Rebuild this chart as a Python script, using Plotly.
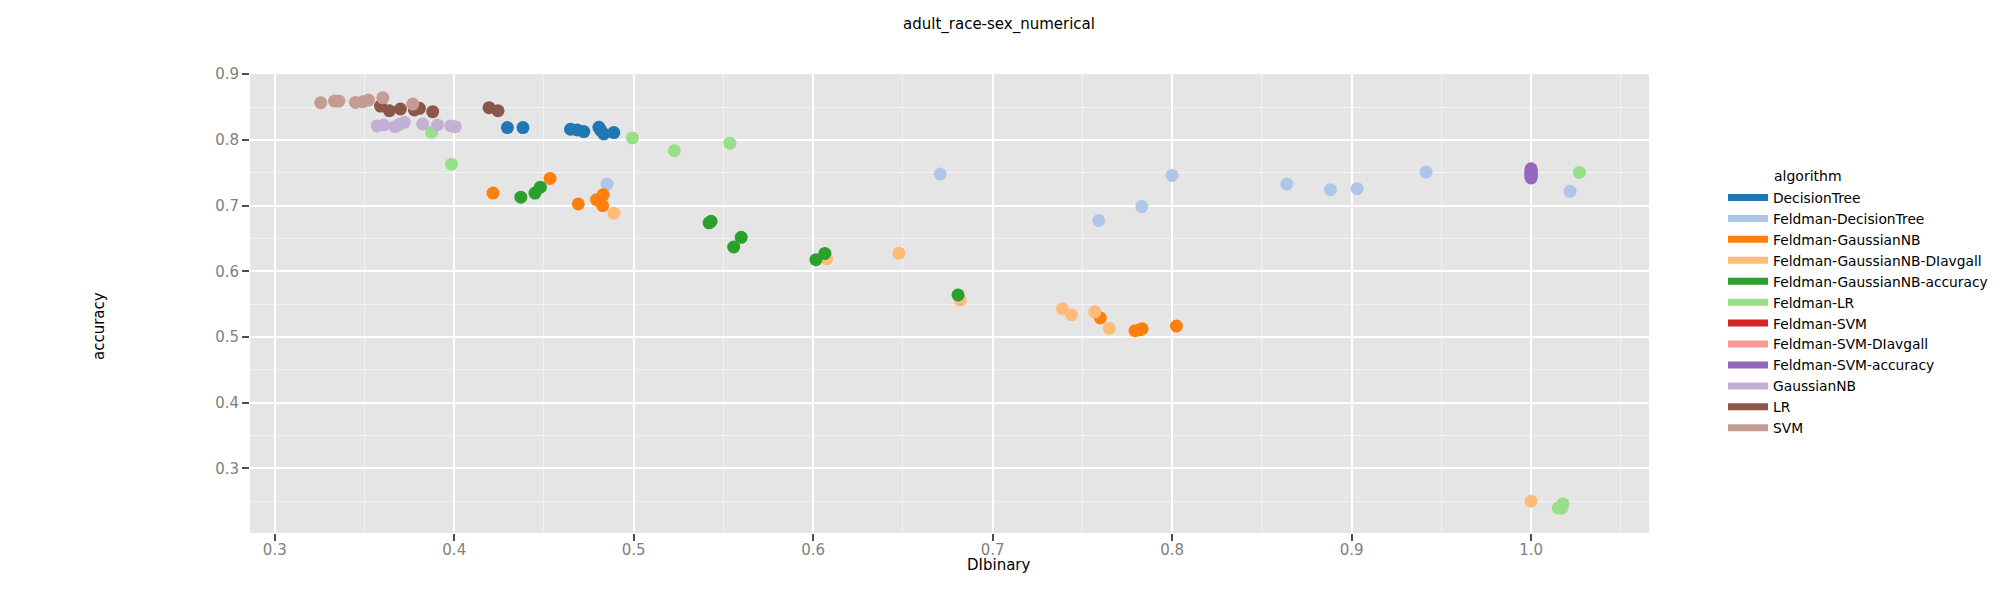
import plotly.graph_objects as go

algorithms = ["DecisionTree", "Feldman-DecisionTree", "Feldman-GaussianNB",
              "Feldman-GaussianNB-DIavgall", "Feldman-GaussianNB-accuracy",
              "Feldman-LR", "Feldman-SVM", "Feldman-SVM-DIavgall",
              "Feldman-SVM-accuracy", "GaussianNB", "LR", "SVM"]
colors = ["#1f77b4", "#aec7e8", "#ff7f0e", "#ffbb78", "#2ca02c", "#98df8a",
          "#d62728", "#ff9896", "#9467bd", "#c5b0d5", "#8c564b", "#c49c94"]

dt_x = [0.4296, 0.4383, 0.4648, 0.4685, 0.4722, 0.4806, 0.4815, 0.4833, 0.4889]
dt_y = [0.8187, 0.8187, 0.8162, 0.8152, 0.8126, 0.8192, 0.8150, 0.8091, 0.8111]

fdt_x = [0.4851, 0.6708, 0.7591, 0.7831, 0.8000, 0.8639, 0.8882, 0.9031, 0.9415, 1.0217]
fdt_y = [0.7327, 0.7480, 0.6773, 0.6985, 0.7460, 0.7328, 0.7242, 0.7258, 0.7510, 0.7217]

fgnb_x = [0.4216, 0.4534, 0.4691, 0.4793, 0.4830, 0.4827, 0.7600, 0.7793, 0.7820, 0.7833, 0.8024]
fgnb_y = [0.7191, 0.7413, 0.7025, 0.7090, 0.7166, 0.7000, 0.5290, 0.5096, 0.5110, 0.5126, 0.5167]

fgnb_di_x = [0.4890, 0.6075, 0.6478, 0.6820, 0.7389, 0.7440, 0.7569, 0.7650, 1.0000]
fgnb_di_y = [0.6884, 0.6190, 0.6273, 0.5566, 0.5429, 0.5338, 0.5384, 0.5130, 0.2500]

fgnb_acc_x = [0.4371, 0.4450, 0.4480, 0.5420, 0.5431, 0.5599, 0.5557, 0.6015, 0.6065, 0.6807]
fgnb_acc_y = [0.7128, 0.7191, 0.7280, 0.6738, 0.6762, 0.6517, 0.6370, 0.6177, 0.6272, 0.5641]

flr_x = [0.3874, 0.3985, 0.4993, 0.5226, 0.5536, 1.0269, 1.0151, 1.0178, 1.0170]
flr_y = [0.8116, 0.7631, 0.8030, 0.7835, 0.7950, 0.7505, 0.2399, 0.2460, 0.2394]

fsvm_x = [1.0, 1.0]
fsvm_y = [0.7450, 0.7500]

fsvm_di_x = [1.0]
fsvm_di_y = [0.7480]

fsvm_acc_x = [1.0, 1.0, 1.0, 1.0, 1.0, 1.0]
fsvm_acc_y = [0.7420, 0.7450, 0.7480, 0.7510, 0.7540, 0.7560]

gnb_x = [0.3570, 0.3607, 0.3670, 0.3694, 0.3722, 0.3824, 0.3907, 0.3981, 0.4006]
gnb_y = [0.8212, 0.8227, 0.8202, 0.8237, 0.8268, 0.8242, 0.8227, 0.8212, 0.8202]

lr_x = [0.3589, 0.3639, 0.3700, 0.3778, 0.3806, 0.3880, 0.4194, 0.4244]
lr_y = [0.8515, 0.8444, 0.8470, 0.8455, 0.8480, 0.8430, 0.8490, 0.8444]

svm_x = [0.3256, 0.3333, 0.3357, 0.3450, 0.3490, 0.3522, 0.3602, 0.3769]
svm_y = [0.8566, 0.8591, 0.8591, 0.8570, 0.8580, 0.8606, 0.8641, 0.8545]

series_x = [dt_x, fdt_x, fgnb_x, fgnb_di_x, fgnb_acc_x, flr_x, fsvm_x, fsvm_di_x,
            fsvm_acc_x, gnb_x, lr_x, svm_x]
series_y = [dt_y, fdt_y, fgnb_y, fgnb_di_y, fgnb_acc_y, flr_y, fsvm_y, fsvm_di_y,
            fsvm_acc_y, gnb_y, lr_y, svm_y]

x_ticks = [0.3, 0.4, 0.5, 0.6, 0.7, 0.8, 0.9, 1.0]
y_ticks = [0.3, 0.4, 0.5, 0.6, 0.7, 0.8, 0.9]

FONT = "DejaVu Sans"
OFF = 8  # page body margin offset
W, H = 2000 - 2 * OFF, 600 - 2 * OFF
L, T = 250 - OFF, 74 - OFF
R = W - (1649 - OFF)
B = H - (533 - OFF)

fig = go.Figure()
for name, col, xs, ys in zip(algorithms, colors, series_x, series_y):
    fig.add_trace(go.Scatter(x=xs, y=ys, mode="markers", name=name,
                             marker=dict(color=col, size=13, line=dict(width=0)),
                             showlegend=False))
for name, col in zip(algorithms, colors):
    fig.add_trace(go.Scatter(x=[None], y=[None], mode="lines", name=name,
                             line=dict(color=col, width=7), showlegend=True))

axis_common = dict(
    showgrid=True, gridcolor="#ffffff", gridwidth=2,
    ticks="outside", ticklen=7, tickwidth=2, tickcolor="#4d4d4d",
    tickfont=dict(family=FONT, size=15, color="#7f7f7f"),
    showline=False, zeroline=False,
)

fig.update_layout(
    width=W, height=H,
    margin=dict(l=L, r=R, t=T, b=B, autoexpand=False),
    paper_bgcolor="#ffffff", plot_bgcolor="#e5e5e5",
    font=dict(family=FONT, size=15, color="#000000"),
    xaxis=dict(range=[0.2862, 1.0657], tickvals=x_ticks,
               ticktext=[f"{v:.1f}" for v in x_ticks],
               ticklabelstandoff=-4,
               minor=dict(dtick=0.05, tick0=0.25, showgrid=True,
                          gridcolor="#f2f2f2", gridwidth=1),
               **axis_common),
    yaxis=dict(range=[0.2017, 0.9003], tickvals=y_ticks,
               ticktext=[f"{v:.1f}" for v in y_ticks],
               minor=dict(dtick=0.05, tick0=0.25, showgrid=True,
                          gridcolor="#f2f2f2", gridwidth=1),
               **axis_common),
    legend=dict(xref="container", yref="container",
                x=(1723 - OFF) / W, xanchor="left",
                y=1 - (182 - OFF) / H, yanchor="top",
                itemwidth=40,
                font=dict(family=FONT, size=13.8, color="#000000"),
                bgcolor="rgba(0,0,0,0)", borderwidth=0,
                itemclick=False, itemdoubleclick=False),
    showlegend=True,
)

def ann(text, px, py, size=15, angle=0, xanchor="center"):
    fx = px - OFF
    fy = py - OFF
    return dict(text=text, x=(fx - L) / (W - L - R), y=1 - (fy - T) / (H - T - B),
                xref="paper", yref="paper", showarrow=False, textangle=angle,
                font=dict(family=FONT, size=size, color="#000000"),
                xanchor=xanchor, yanchor="middle")

fig.update_layout(annotations=[
    ann("adult_race-sex_numerical", 999, 24),
    ann("DIbinary", 999, 565),
    ann("accuracy", 99, 326, angle=-90),
    ann("algorithm", 1772, 176, size=14, xanchor="left"),
])

fig.write_html("out.html")
